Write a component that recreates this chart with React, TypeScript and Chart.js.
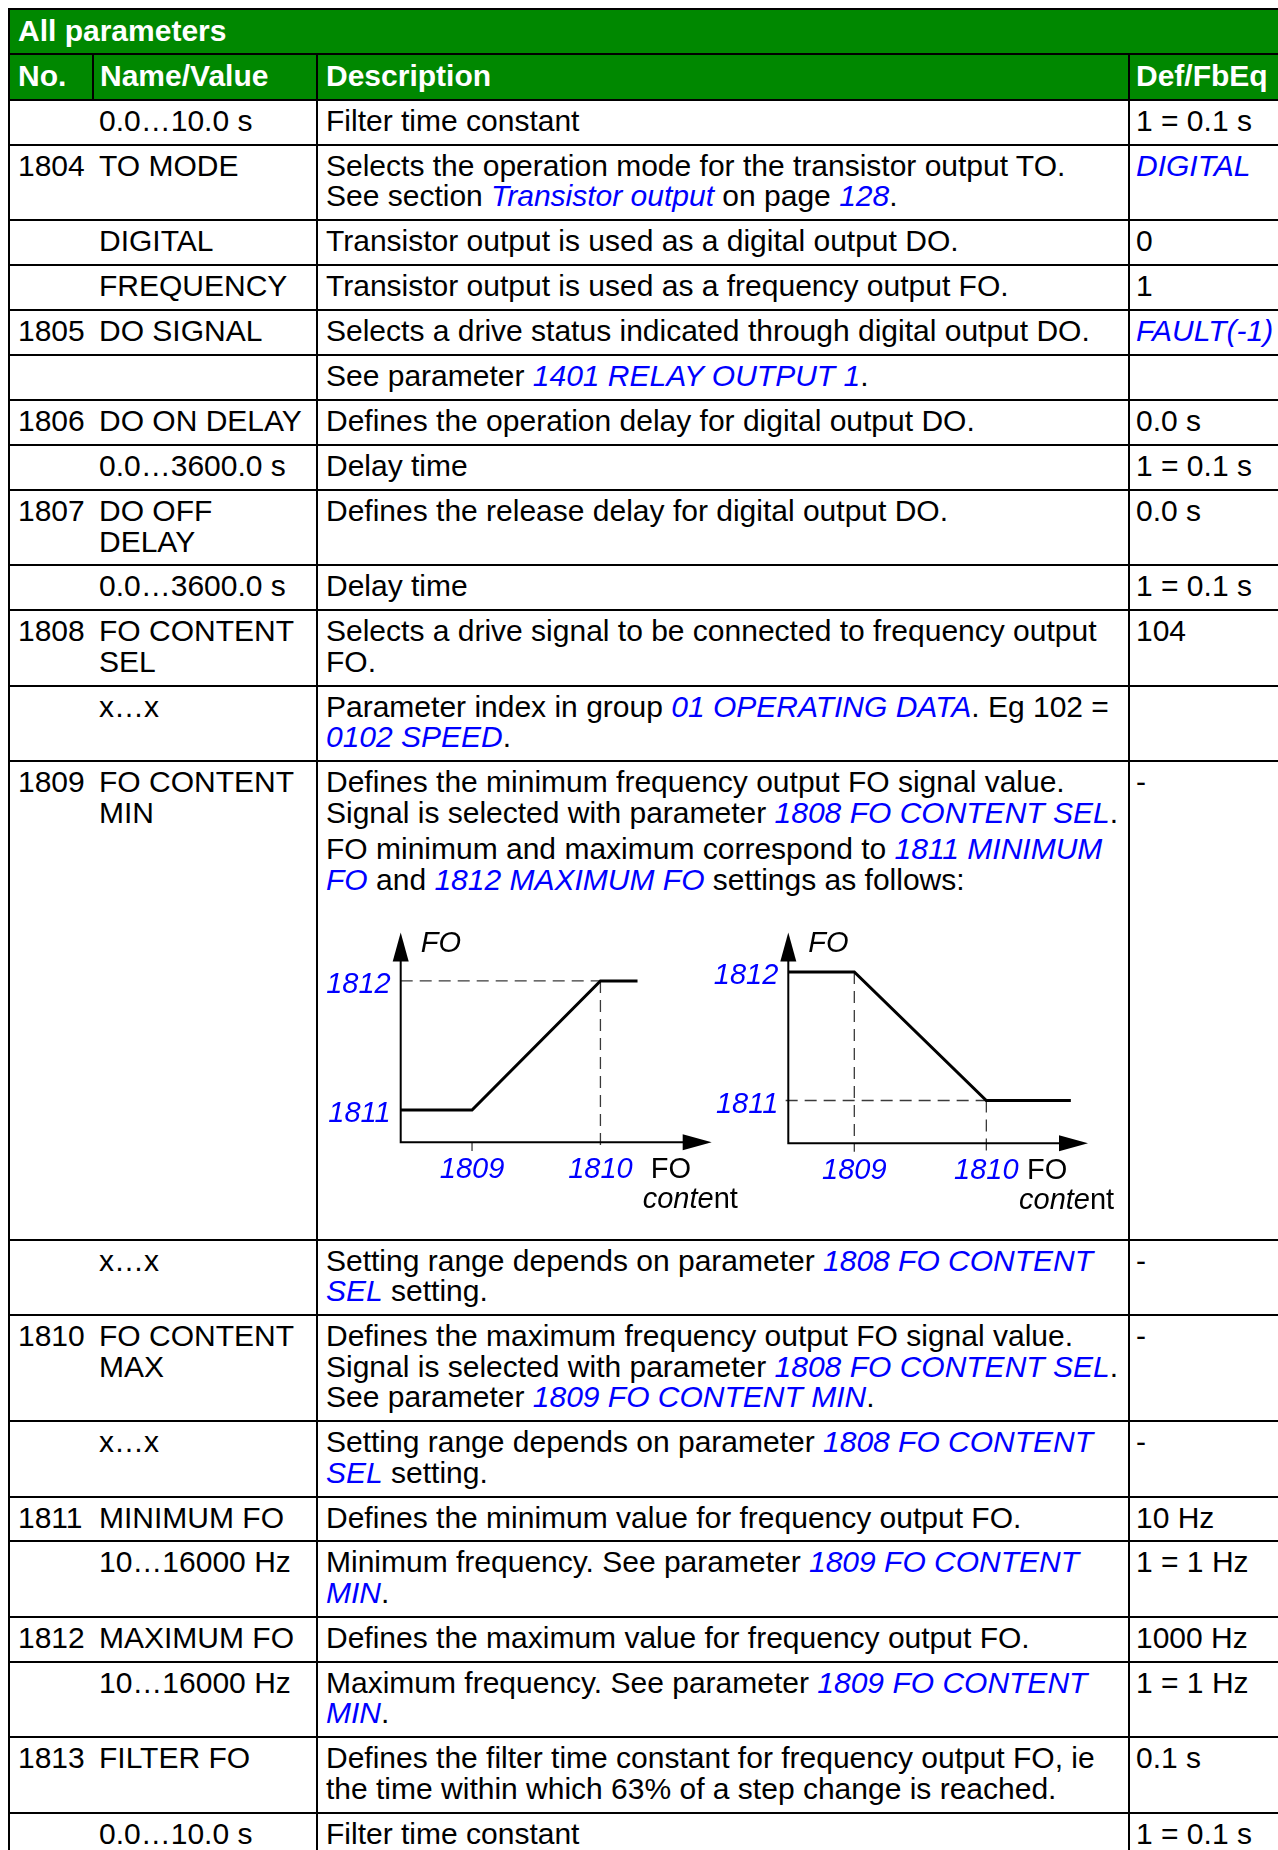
import React, { useEffect, useRef } from "react";
import { Chart, registerables } from "chart.js";

Chart.register(...registerables);

const FONT = "'Liberation Sans', Arial, Helvetica, sans-serif";
const BLUE = "#0000ff";
const GREEN = "#008800";

// ---- chart data ----
const contentTickLabels = ["1809", "1810"];
const foTickLabels = ["1811", "1812"];
const axisTitleY = "FO";
const axisTitleX = "FO";
const axisSubX = ["conte", "nt"];

// increasing FO (left chart)
const incContentX = [0, 25, 70, 83];
const incFoY = [1, 1, 5, 5];
const incTickX = [25, 70];
const incTickY = [1, 5];
const incXMax = 109;
const incYMax = 6.5;
const incGuides = [
  [[0, 5], [70, 5]],
  [[70, 5], [70, -0.27]],
  [[25, 0], [25, -0.27]],
];

// decreasing FO (right chart)
const decContentX = [0, 25, 75, 107];
const decFoY = [5.33, 5.33, 1.33, 1.33];
const decTickX = [25, 75];
const decTickY = [1.33, 5.33];
const decXMax = 113.5;
const decYMax = 6.56;
const decGuides = [
  [[-1, 1.33], [75, 1.33]],
  [[25, 5.33], [25, -0.27]],
  [[75, 1.33], [75, -0.27]],
];

// ---- table data ----
const titleText = "All parameters";
const headerTexts = ["No.", "Name/Value", "Description", "Def/FbEq"];
const paramNos = ["", "1804", "", "", "1805", "", "1806", "", "1807", "", "1808", "", "1809", "", "1810", "", "1811", "", "1812", "", "1813", ""];
const paramNames = [
  "0.0…10.0 s", "TO MODE", "DIGITAL", "FREQUENCY", "DO SIGNAL", "", "DO ON DELAY", "0.0…3600.0 s",
  "DO OFF\nDELAY", "0.0…3600.0 s", "FO CONTENT\nSEL", "x…x", "FO CONTENT\nMIN", "x…x", "FO CONTENT\nMAX",
  "x…x", "MINIMUM FO", "10…16000 Hz", "MAXIMUM FO", "10…16000 Hz", "FILTER FO", "0.0…10.0 s",
];
const paramDescriptions = [
  "Filter time constant",
  "Selects the operation mode for the transistor output TO.\nSee section *Transistor output* on page *128*.",
  "Transistor output is used as a digital output DO.",
  "Transistor output is used as a frequency output FO.",
  "Selects a drive status indicated through digital output DO.",
  "See parameter *1401 RELAY OUTPUT 1*.",
  "Defines the operation delay for digital output DO.",
  "Delay time",
  "Defines the release delay for digital output DO.",
  "Delay time",
  "Selects a drive signal to be connected to frequency output\nFO.",
  "Parameter index in group *01 OPERATING DATA*. Eg 102 =\n*0102 SPEED*.",
  "Defines the minimum frequency output FO signal value.\nSignal is selected with parameter *1808 FO CONTENT SEL*.",
  "Setting range depends on parameter *1808 FO CONTENT*\n*SEL* setting.",
  "Defines the maximum frequency output FO signal value.\nSignal is selected with parameter *1808 FO CONTENT SEL*.\nSee parameter *1809 FO CONTENT MIN*.",
  "Setting range depends on parameter *1808 FO CONTENT*\n*SEL* setting.",
  "Defines the minimum value for frequency output FO.",
  "Minimum frequency. See parameter *1809 FO CONTENT*\n*MIN*.",
  "Defines the maximum value for frequency output FO.",
  "Maximum frequency. See parameter *1809 FO CONTENT*\n*MIN*.",
  "Defines the filter time constant for frequency output FO, ie\nthe time within which 63% of a step change is reached.",
  "Filter time constant",
];
const chartRowIndex = 12;
const chartRowExtra = "FO minimum and maximum correspond to *1811 MINIMUM*\n*FO* and *1812 MAXIMUM FO* settings as follows:";
const paramDefaults = [
  "1 = 0.1 s", "*DIGITAL*", "0", "1", "*FAULT(-1)*", "", "0.0 s", "1 = 0.1 s", "0.0 s", "1 = 0.1 s",
  "104", "", "-", "-", "-", "-", "10 Hz", "1 = 1 Hz", "1000 Hz", "1 = 1 Hz", "0.1 s", "1 = 0.1 s",
];

const colWidths = [84, 224, 812, 170];

function rich(s: string) {
  const lines = s.split("\n");
  return lines.map((line, li) => (
    <React.Fragment key={li}>
      {li > 0 && <br />}
      {line.split("*").map((part, pi) =>
        pi % 2 === 1 ? (
          <span key={pi} style={{ color: BLUE, fontStyle: "italic" }}>{part}</span>
        ) : (
          <React.Fragment key={pi}>{part}</React.Fragment>
        )
      )}
    </React.Fragment>
  ));
}

const foAxesPlugin = {
  id: "foAxes",
  afterDatasetsDraw(chart: any, _args: any, opts: any) {
    const { ctx } = chart;
    const xs = chart.scales.x;
    const ys = chart.scales.y;
    const x0 = xs.getPixelForValue(0);
    const y0 = ys.getPixelForValue(0);
    const xTip = xs.getPixelForValue(xs.max);
    const yTip = ys.getPixelForValue(ys.max);
    ctx.save();
    ctx.strokeStyle = "#000";
    ctx.fillStyle = "#000";
    ctx.lineWidth = 2;
    ctx.beginPath();
    ctx.moveTo(x0, y0 + 1);
    ctx.lineTo(x0, yTip + 20);
    ctx.moveTo(x0 - 1, y0);
    ctx.lineTo(xTip - 20, y0);
    ctx.stroke();
    ctx.beginPath();
    ctx.moveTo(x0, yTip);
    ctx.lineTo(x0 + 8, yTip + 29);
    ctx.lineTo(x0 - 8, yTip + 29);
    ctx.closePath();
    ctx.fill();
    ctx.beginPath();
    ctx.moveTo(xTip, y0);
    ctx.lineTo(xTip - 29, y0 - 8);
    ctx.lineTo(xTip - 29, y0 + 8);
    ctx.closePath();
    ctx.fill();

    const it = `italic 29px ${FONT}`;
    const rg = `29px ${FONT}`;
    ctx.textBaseline = "alphabetic";
    ctx.font = it;
    ctx.fillStyle = BLUE;
    ctx.textAlign = "center";
    opts.tickX.forEach((v: number, i: number) =>
      ctx.fillText(contentTickLabels[i], xs.getPixelForValue(v), y0 + 35.5)
    );
    ctx.textAlign = "right";
    opts.tickY.forEach((v: number, i: number) =>
      ctx.fillText(foTickLabels[i], x0 - 10, ys.getPixelForValue(v) + 12.4)
    );
    ctx.fillStyle = "#000";
    ctx.textAlign = "left";
    ctx.fillText(axisTitleY, x0 + 20, yTip + 19);
    ctx.font = rg;
    ctx.fillText(axisTitleX, xTip - 61, y0 + 35.5);
    ctx.font = it;
    ctx.fillText(axisSubX[0], xTip - 69, y0 + 65.5);
    const w = ctx.measureText(axisSubX[0]).width;
    ctx.font = rg;
    ctx.fillText(axisSubX[1], xTip - 69 + w, y0 + 65.5);
    ctx.restore();
  },
};

type FoChartProps = {
  left: number;
  width: number;
  height: number;
  pad: { left: number; right: number; top: number; bottom: number };
  xs: number[];
  ys: number[];
  xMax: number;
  yMax: number;
  guides: number[][][];
  tickX: number[];
  tickY: number[];
};

function FoChart(p: FoChartProps) {
  const ref = useRef<HTMLCanvasElement>(null);
  useEffect(() => {
    const datasets: any[] = [
      {
        data: p.xs.map((x, i) => ({ x, y: p.ys[i] })),
        borderColor: "#000",
        borderWidth: 3,
        pointRadius: 0,
        tension: 0,
        clip: false,
        order: 0,
        borderJoinStyle: "miter",
      },
      ...p.guides.map((seg) => ({
        data: seg.map(([x, y]) => ({ x, y })),
        borderColor: "#3a3a3a",
        borderWidth: 1.3,
        borderDash: [12, 7],
        pointRadius: 0,
        clip: false,
        order: 1,
      })),
    ];
    const c = new Chart(ref.current as HTMLCanvasElement, {
      type: "line",
      data: { datasets },
      options: {
        animation: false,
        responsive: false,
        maintainAspectRatio: false,
        events: [],
        layout: { padding: p.pad },
        plugins: {
          legend: { display: false },
          tooltip: { enabled: false },
          foAxes: { tickX: p.tickX, tickY: p.tickY },
        } as any,
        scales: {
          x: { type: "linear", min: 0, max: p.xMax, display: false },
          y: { type: "linear", min: 0, max: p.yMax, display: false },
        },
      },
      plugins: [foAxesPlugin as any],
    });
    return () => c.destroy();
  }, []);
  return (
    <canvas
      ref={ref}
      width={p.width}
      height={p.height}
      style={{ display: "block", position: "absolute", left: p.left, top: 0, width: p.width, height: p.height }}
    />
  );
}

const CHART_H = 336;

function ChartPair() {
  return (
    <div style={{ position: "relative", height: CHART_H, width: 796 }}>
      <FoChart
        left={0}
        width={419}
        height={CHART_H}
        pad={{ left: 74.7, right: 33.3, top: 37.5, bottom: CHART_H - 247.2 }}
        xs={incContentX}
        ys={incFoY}
        xMax={incXMax}
        yMax={incYMax}
        guides={incGuides}
        tickX={incTickX}
        tickY={incTickY}
      />
      <FoChart
        left={379}
        width={416}
        height={CHART_H}
        pad={{ left: 83.3, right: 33, top: 37.5, bottom: CHART_H - 248.2 }}
        xs={decContentX}
        ys={decFoY}
        xMax={decXMax}
        yMax={decYMax}
        guides={decGuides}
        tickX={decTickX}
        tickY={decTickY}
      />
    </div>
  );
}

const cellBase: React.CSSProperties = {
  border: "2px solid #000",
  padding: "5px 8px 7.45px 8px",
  verticalAlign: "top",
  whiteSpace: "nowrap",
  overflow: "visible",
};

export default function App() {
  return (
    <div style={{ position: "relative", width: 1278, height: 1850, overflow: "hidden", background: "#fff" }}>
      <style>{"body{margin:0;}"}</style>
      <table
        style={{
          position: "absolute",
          left: 8,
          top: 8,
          borderCollapse: "collapse",
          tableLayout: "fixed",
          width: colWidths.reduce((a, b) => a + b, 0),
          fontFamily: FONT,
          fontSize: "30px",
          lineHeight: "30.5px",
          color: "#000",
        }}
      >
        <colgroup>
          {colWidths.map((w, i) => (
            <col key={i} style={{ width: w }} />
          ))}
        </colgroup>
        <tbody>
          <tr>
            <td
              colSpan={4}
              style={{ ...cellBase, background: GREEN, color: "#fff", fontWeight: "bold", padding: "6px 8px 6.5px 8px" }}
            >
              {titleText}
            </td>
          </tr>
          <tr>
            {headerTexts.map((h, i) => (
              <td
                key={i}
                style={{
                  ...cellBase,
                  background: GREEN,
                  color: "#fff",
                  fontWeight: "bold",
                  padding: `6px ${i === 0 ? 8 : 6}px 7.5px ${i === 1 ? 6 : i === 3 ? 6 : 8}px`,
                }}
              >
                {h}
              </td>
            ))}
          </tr>
          {paramNos.map((no, r) => (
            <tr key={r}>
              <td style={{ ...cellBase, borderRight: "hidden" }}>{no}</td>
              <td style={{ ...cellBase, borderLeft: "hidden", paddingLeft: 6 }}>{rich(paramNames[r])}</td>
              <td style={cellBase}>
                {rich(paramDescriptions[r])}
                {r === chartRowIndex && (
                  <>
                    <div style={{ marginTop: 6 }}>{rich(chartRowExtra)}</div>
                    <ChartPair />
                  </>
                )}
              </td>
              <td style={{ ...cellBase, paddingLeft: 6 }}>{rich(paramDefaults[r])}</td>
            </tr>
          ))}
        </tbody>
      </table>
    </div>
  );
}
